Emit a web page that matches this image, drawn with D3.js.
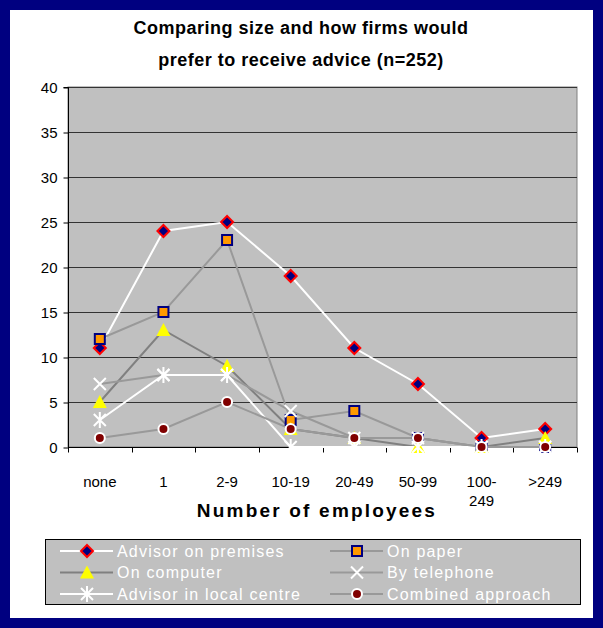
<!DOCTYPE html>
<html>
<head>
<meta charset="utf-8">
<script src="https://cdn.jsdelivr.net/npm/d3@7"></script>
<style>
  html, body { margin: 0; padding: 0; background: #000080; }
  svg { display: block; font-family: "Liberation Sans", Arial, sans-serif; }
</style>
</head>
<body>
<svg id="chart" width="603" height="628"></svg>
<script>
// Firm size categories and share preferring each advice channel
const categories = ["none", "1", "2-9", "10-19", "20-49", "50-99", "100-249", ">249"];
const categoryLabels = [["none"], ["1"], ["2-9"], ["10-19"], ["20-49"], ["50-99"], ["100-", "249"], [">249"]];
const yTicks = [0, 5, 10, 15, 20, 25, 30, 35, 40];

const advisorOnPremises = [11, 24, 25, 19, 11, 7, 1, 2];
const onPaper           = [12, 15, 23, 3, 4, 1, 0, 0];
const onComputer        = [5, 13, 9, 2, 1, 0, 0, 1];
const byTelephone       = [7, 8, 8, 4, 1, 1, 0, 0];
const advisorLocal      = [3, 8, 8, 0, 0, 0, 0, 0];
const combined          = [1, 2, 5, 2, 1, 1, 0, 0];

const seriesList = [
  { name: "Advisor on premises",     values: advisorOnPremises, line: "#ffffff", marker: "diamond" },
  { name: "On paper",                values: onPaper,           line: "#999999", marker: "square" },
  { name: "On computer",             values: onComputer,        line: "#808080", marker: "triangle" },
  { name: "By telephone",            values: byTelephone,       line: "#999999", marker: "cross" },
  { name: "Advisor in local centre", values: advisorLocal,      line: "#ffffff", marker: "asterisk" },
  { name: "Combined approach",       values: combined,          line: "#999999", marker: "circle" }
];

const svg = d3.select("#chart");

// white panel inside the navy frame
svg.append("rect").attr("x", 10).attr("y", 10).attr("width", 583).attr("height", 608).attr("fill", "#ffffff");

const plot = { left: 68, top: 87, right: 577, bottom: 447 };

const x = d3.scaleBand().domain(categories).range([plot.left, plot.right]);
const y = d3.scaleLinear().domain([0, 40]).range([plot.bottom, plot.top]);

// plot background
svg.append("rect")
  .attr("x", plot.left).attr("y", plot.top)
  .attr("width", plot.right - plot.left).attr("height", plot.bottom - plot.top)
  .attr("fill", "#c0c0c0").attr("stroke", "#808080").attr("stroke-width", 1);

// horizontal gridlines
svg.append("g").selectAll("line").data(yTicks.filter(d => d > 0)).join("line")
  .attr("x1", plot.left).attr("x2", plot.right)
  .attr("y1", d => Math.round(y(d)) + 0.5).attr("y2", d => Math.round(y(d)) + 0.5)
  .attr("stroke", "#333333").attr("stroke-width", 1);

// y axis
const yAxis = d3.axisLeft(y).tickValues(yTicks).tickSize(5).tickPadding(6);
const gy = svg.append("g").attr("transform", `translate(${plot.left + 0.5},0.5)`).call(yAxis);
gy.select(".domain").attr("stroke", "#000").attr("d", `M-5,${y(40)}H0V${y(0)}`);
gy.selectAll(".tick line").attr("stroke", "#000");
gy.selectAll(".tick text").attr("font-size", 15).attr("fill", "#000")
  .attr("font-family", "Liberation Sans, Arial, sans-serif");

// x axis: ticks on the category boundaries
const gx = svg.append("g").attr("transform", `translate(0,${plot.bottom + 0.5})`);
gx.append("line").attr("x1", plot.left).attr("x2", plot.right).attr("y1", 0).attr("y2", 0).attr("stroke", "#000");
const boundaries = categories.map(c => x(c)).concat([plot.right]);
gx.selectAll("line.tk").data(boundaries).join("line").attr("class", "tk")
  .attr("x1", d => Math.round(d) + 0.5).attr("x2", d => Math.round(d) + 0.5)
  .attr("y1", 0).attr("y2", 5).attr("stroke", "#000");
const xl = gx.selectAll("text").data(categories).join("text")
  .attr("x", d => x(d) + x.bandwidth() / 2)
  .attr("y", 39)
  .attr("text-anchor", "middle").attr("font-size", 15).attr("fill", "#000");
xl.each(function(d, i) {
  const t = d3.select(this);
  categoryLabels[i].forEach((s, j) => {
    t.append("tspan").attr("x", x(d) + x.bandwidth() / 2).attr("dy", j === 0 ? 0 : 19).text(s);
  });
});

// titles
const title = svg.append("text").attr("x", 301).attr("text-anchor", "middle")
  .attr("font-size", 18).attr("font-weight", "bold").attr("fill", "#000")
  .attr("letter-spacing", 0.5);
title.append("tspan").attr("x", 301).attr("y", 34).text("Comparing size and how firms would");
title.append("tspan").attr("x", 301).attr("y", 66).text("prefer to receive advice (n=252)");

svg.append("text").attr("x", 317).attr("y", 517)
  .attr("text-anchor", "middle").attr("font-size", 19).attr("font-weight", "bold")
  .attr("letter-spacing", 2.2)
  .attr("fill", "#000").text("Number of employees");

// marker drawing
function drawMarker(g, type, cx, cy) {
  switch (type) {
    case "diamond":
      g.append("path").attr("d", `M${cx},${cy - 6}L${cx + 6},${cy}L${cx},${cy + 6}L${cx - 6},${cy}Z`)
        .attr("fill", "#000080").attr("stroke", "#ff0000").attr("stroke-width", 2);
      break;
    case "square":
      g.append("rect").attr("x", cx - 5).attr("y", cy - 5).attr("width", 10).attr("height", 10)
        .attr("fill", "#ff9900").attr("stroke", "#000080").attr("stroke-width", 2);
      break;
    case "triangle":
      g.append("path").attr("d", `M${cx},${cy - 7}L${cx + 7},${cy + 6}L${cx - 7},${cy + 6}Z`)
        .attr("fill", "#ffff00");
      break;
    case "cross":
      g.append("path").attr("d", `M${cx - 6},${cy - 6}L${cx + 6},${cy + 6}M${cx + 6},${cy - 6}L${cx - 6},${cy + 6}`)
        .attr("stroke", "#ffffff").attr("stroke-width", 2).attr("fill", "none");
      break;
    case "asterisk":
      g.append("path").attr("d", `M${cx - 6},${cy - 6}L${cx + 6},${cy + 6}M${cx + 6},${cy - 6}L${cx - 6},${cy + 6}M${cx},${cy - 8}L${cx},${cy + 8}`)
        .attr("stroke", "#ffffff").attr("stroke-width", 2).attr("fill", "none");
      break;
    case "circle":
      g.append("circle").attr("cx", cx).attr("cy", cy).attr("r", 5)
        .attr("fill", "#800000").attr("stroke", "#ffffff").attr("stroke-width", 2);
      break;
  }
}

// series lines
const line = d3.line().x((d, i) => x(categories[i]) + x.bandwidth() / 2).y(d => y(d));
const linesG = svg.append("g");
seriesList.forEach(s => {
  linesG.append("path").datum(s.values).attr("d", line)
    .attr("fill", "none").attr("stroke", s.line).attr("stroke-width", 2);
});

// series markers (later series on top)
const markersG = svg.append("g");
seriesList.forEach(s => {
  const g = markersG.append("g");
  s.values.forEach((v, i) => drawMarker(g, s.marker, x(categories[i]) + x.bandwidth() / 2, y(v)));
});

// legend
const legend = svg.append("g");
legend.append("rect").attr("x", 45.5).attr("y", 539.5).attr("width", 535).attr("height", 65)
  .attr("fill", "#c0c0c0").attr("stroke", "#000").attr("stroke-width", 1);
seriesList.forEach((s, i) => {
  const col = i % 2, row = Math.floor(i / 2);
  const lx = col === 0 ? 60 : 330;
  const ly = 551 + row * 21.5;
  const g = legend.append("g");
  g.append("line").attr("x1", lx).attr("x2", lx + 53).attr("y1", ly).attr("y2", ly)
    .attr("stroke", s.line).attr("stroke-width", 2);
  drawMarker(g, s.marker, lx + 27, ly);
  g.append("text").attr("x", lx + 57).attr("y", ly + 5.5).attr("font-size", 16)
    .attr("fill", "#ffffff").attr("letter-spacing", 1.2).text(s.name);
});
</script>
</body>
</html>
